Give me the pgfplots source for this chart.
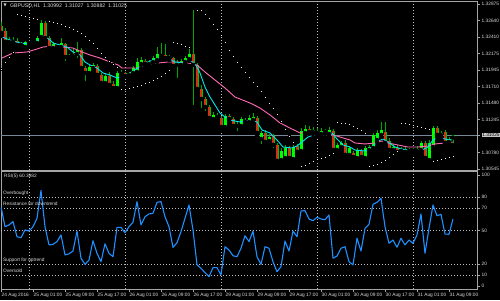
\documentclass[border=0pt]{standalone}
\usepackage{pgfplots}
\pgfplotsset{compat=1.18}
\usepackage{pgfplotstable}
\usepackage{fontspec}
\setmainfont{Liberation Sans}
\newfontfamily\symfont{DejaVu Sans}
\newcommand\mtfont{\fontsize{4.8}{5.5}\selectfont}
\definecolor{fg}{RGB}{220,220,220}
\definecolor{frame}{RGB}{165,165,165}
\definecolor{gridc}{RGB}{190,190,190}
\definecolor{wick}{RGB}{0,170,0}
\definecolor{bull}{RGB}{0,255,0}
\definecolor{bearedge}{RGB}{0,190,0}
\definecolor{bearfill}{RGB}{210,50,20}
\definecolor{fastma}{RGB}{0,230,240}
\definecolor{slowma}{RGB}{255,105,180}
\definecolor{rsiblue}{RGB}{30,144,255}
\definecolor{pline}{RGB}{119,136,153}
\definecolor{lightbox}{RGB}{200,200,200}
\definecolor{sarc}{RGB}{240,240,240}

% hourly candles: t = hours since 25 Aug 2016 00:00
\pgfplotstableread{
t o hi lo c
-7 1.32564 1.32621 1.32423 1.32466
-6 1.32494 1.32536 1.32311 1.32339
-5 1.32339 1.32409 1.32311 1.32367
-4 1.32367 1.32409 1.32297 1.32339
-3 1.32353 1.32395 1.32268 1.32297
-2 1.32297 1.32339 1.32254 1.32311
-1 1.32268 1.32353 1.32254 1.32339
0 1.32339 1.32353 1.32297 1.32325
1 1.32325 1.32353 1.32311 1.32339
2 1.32325 1.32423 1.32311 1.32395
3 1.32409 1.32649 1.32381 1.32607
4 1.32607 1.32635 1.32367 1.32395
5 1.32395 1.32423 1.32226 1.32254
6 1.32254 1.32339 1.32240 1.32311
7 1.32297 1.32311 1.32254 1.32268
8 1.32268 1.32395 1.32254 1.32325
9 1.32311 1.32325 1.32043 1.32127
10 1.32127 1.32170 1.32099 1.32141
11 1.32141 1.32254 1.32113 1.32170
12 1.32170 1.32339 1.32085 1.32226
13 1.32226 1.32254 1.31944 1.31972
14 1.31972 1.32000 1.31761 1.31902
15 1.31902 1.32015 1.31874 1.31986
16 1.31972 1.32043 1.31930 1.32015
17 1.32000 1.32029 1.31845 1.31874
18 1.31874 1.31902 1.31704 1.31761
19 1.31761 1.31888 1.31733 1.31859
20 1.31859 1.31916 1.31704 1.31733
21 1.31747 1.31789 1.31662 1.31690
22 1.31690 1.31930 1.31676 1.31902
23 1.31888 1.31944 1.31859 1.31902
24 1.31902 1.31916 1.31845 1.31859
25 1.31874 1.31916 1.31859 1.31902
26 1.31902 1.32000 1.31888 1.31972
27 1.31916 1.32113 1.31902 1.32057
28 1.32029 1.32127 1.31972 1.32085
29 1.32071 1.32099 1.32000 1.32029
30 1.32029 1.32085 1.32015 1.32057
31 1.32057 1.32141 1.32043 1.32113
32 1.32085 1.32268 1.32057 1.32170
33 1.32170 1.32325 1.32113 1.32141
34 1.32156 1.32311 1.32099 1.32113
35 1.32113 1.32156 1.32085 1.32127
36 1.32113 1.32127 1.31944 1.32000
37 1.32015 1.32085 1.31803 1.32043
38 1.32015 1.32099 1.31986 1.32071
39 1.32057 1.32141 1.32029 1.32113
40 1.32099 1.32268 1.32071 1.32170
41 1.32170 1.32790 1.31422 1.32015
42 1.32015 1.32043 1.31634 1.31676
43 1.31676 1.31733 1.31380 1.31535
44 1.31535 1.31563 1.31338 1.31422
45 1.31422 1.31451 1.31225 1.31267
46 1.31253 1.31352 1.31211 1.31310
47 1.31295 1.31338 1.31253 1.31281
48 1.31267 1.31295 1.31098 1.31140
49 1.31140 1.31324 1.31112 1.31295
50 1.31295 1.31324 1.31225 1.31253
51 1.31253 1.31281 1.31126 1.31154
52 1.31154 1.31211 1.31056 1.31169
53 1.31154 1.31281 1.31126 1.31253
54 1.31239 1.31267 1.31183 1.31211
55 1.31211 1.31310 1.31197 1.31267
56 1.31239 1.31338 1.31211 1.31281
57 1.31267 1.31295 1.31028 1.31056
58 1.30971 1.31084 1.30872 1.31056
59 1.31056 1.31098 1.30901 1.30929
60 1.30943 1.31042 1.30915 1.30999
61 1.31013 1.31042 1.30816 1.30887
62 1.30887 1.30915 1.30619 1.30661
63 1.30675 1.30844 1.30633 1.30802
64 1.30703 1.30887 1.30661 1.30844
65 1.30844 1.30872 1.30675 1.30703
66 1.30689 1.30887 1.30661 1.30858
67 1.30872 1.30901 1.30760 1.30788
68 1.30802 1.31126 1.30774 1.31084
69 1.31056 1.31169 1.31028 1.31112
70 1.31112 1.31154 1.31042 1.31070
71 1.31070 1.31140 1.31042 1.31098
72 1.31084 1.31126 1.31013 1.31056
73 1.31042 1.31126 1.31013 1.31084
74 1.31084 1.31112 1.31042 1.31070
75 1.31042 1.31140 1.31028 1.31098
76 1.31084 1.31112 1.30788 1.30816
77 1.30816 1.30915 1.30774 1.30887
78 1.30858 1.30943 1.30830 1.30915
79 1.30915 1.30957 1.30717 1.30746
80 1.30746 1.30872 1.30717 1.30844
81 1.30774 1.30802 1.30675 1.30717
82 1.30703 1.30844 1.30661 1.30816
83 1.30802 1.30830 1.30675 1.30717
84 1.30703 1.30872 1.30675 1.30844
85 1.30816 1.30887 1.30774 1.30858
86 1.30844 1.31056 1.30816 1.31028
87 1.30957 1.31098 1.30929 1.31056
88 1.31028 1.31211 1.30999 1.31098
89 1.31070 1.31211 1.30887 1.30915
90 1.30943 1.30985 1.30746 1.30816
91 1.30816 1.30901 1.30788 1.30858
92 1.30844 1.30887 1.30760 1.30788
93 1.30816 1.30858 1.30774 1.30802
94 1.30830 1.30858 1.30760 1.30788
95 1.30802 1.30844 1.30774 1.30816
96 1.30816 1.30844 1.30774 1.30802
97 1.30802 1.30872 1.30788 1.30830
98 1.30816 1.30943 1.30788 1.30915
99 1.30915 1.30943 1.30675 1.30703
100 1.30675 1.30957 1.30661 1.30915
101 1.30858 1.31154 1.30830 1.31126
102 1.31126 1.31154 1.30999 1.31028
103 1.31028 1.31084 1.30985 1.31056
104 1.31070 1.31098 1.30887 1.30915
105 1.30929 1.30999 1.30901 1.30971
106 1.30992 1.31027 1.30882 1.31025
}\candles

\pgfplotstableread{
t v
-6.75 1.32409
-4.75 1.32367
-2.25 1.32325
0.25 1.32311
1.5 1.32325
2.25 1.32367
3.75 1.32423
5.25 1.32367
6 1.32325
7.75 1.32297
9.5 1.32268
11 1.32198
12.75 1.32156
14 1.32057
15.25 1.32015
17 1.31972
18.5 1.31902
20.25 1.31874
22 1.31831
23.25 1.31859
24.75 1.31888
26.5 1.31944
28.25 1.32015
29.75 1.32057
31.5 1.32099
33.25 1.32127
34.75 1.32113
36.5 1.32057
38.25 1.32043
39.75 1.32071
41 1.32057
42 1.31986
42.75 1.31902
44 1.31704
45.25 1.31563
46.5 1.31451
47.75 1.31338
49 1.31281
50.25 1.31239
52.75 1.31211
55.25 1.31239
57 1.31211
58.25 1.31098
60.25 1.31056
62 1.30957
63.5 1.30858
65.75 1.30844
67 1.30872
68.25 1.30929
69.75 1.30999
72 1.31042
74.5 1.31056
75.75 1.31056
77 1.30971
78.5 1.30887
80.25 1.30858
81.5 1.30816
84 1.30802
85.75 1.30858
87.25 1.30943
88.5 1.30971
89.75 1.30929
91.5 1.30858
93.25 1.30830
95.75 1.30802
98.25 1.30816
99.75 1.30858
101 1.30957
102.25 1.30999
104 1.30971
105.75 1.30957
}\fastma

\pgfplotstableread{
t v
-6.75 1.32113
-4 1.32184
-0.5 1.32198
2 1.32240
3.5 1.32268
6 1.32282
8.5 1.32268
11 1.32254
13.25 1.32198
15.25 1.32156
17.75 1.32113
20.25 1.32057
22.25 1.32015
23.25 1.31972
24.75 1.31972
27.25 1.31972
29.75 1.32015
32.25 1.32043
34.75 1.32057
37.25 1.32057
39.75 1.32043
42 1.32015
44 1.31916
46.5 1.31803
49 1.31690
51.5 1.31563
52.75 1.31535
55.25 1.31479
57.75 1.31408
60.25 1.31310
62.75 1.31197
65.25 1.31126
67.75 1.31056
70.25 1.31056
72.75 1.31056
75.25 1.31042
77.75 1.30999
80.25 1.30957
81.5 1.30915
84 1.30901
86.5 1.30915
88.25 1.30943
89.75 1.30915
92.25 1.30887
94.75 1.30858
97.25 1.30858
99.75 1.30872
101.5 1.30901
104 1.30915
106 1.30929
}\slowma

\pgfplotstableread{
t v
-7 1.31958
-6 1.32057
-5 1.32127
-4 1.32198
-3 1.32734
-2 1.32720
-1 1.32705
0 1.32691
1 1.32677
2 1.32663
5 1.32635
6 1.32621
7 1.32607
8 1.32593
9 1.32564
10 1.32550
11 1.32522
12 1.32494
13 1.32466
14 1.32423
15 1.32367
16 1.32325
17 1.32254
18 1.32184
19 1.32127
20 1.32071
21 1.32029
22 1.31986
23 1.31676
24 1.31676
25 1.31690
26 1.31704
27 1.31718
28 1.31733
29 1.31761
30 1.31775
31 1.31803
32 1.31831
33 1.31859
34 1.31902
35 1.31944
36 1.32339
37 1.32325
38 1.32311
39 1.32282
40 1.32268
42 1.32790
43 1.32790
44 1.32734
45 1.32677
46 1.32593
47 1.32522
48 1.32438
49 1.32339
50 1.32226
51 1.32141
52 1.32057
53 1.31986
54 1.31916
55 1.31845
56 1.31775
57 1.31718
58 1.31648
59 1.31563
60 1.31479
61 1.31408
62 1.31324
63 1.31225
64 1.31112
65 1.31013
66 1.30929
68 1.30590
69 1.30604
70 1.30633
71 1.30661
72 1.30689
73 1.30703
74 1.30717
75 1.30746
76 1.30774
77 1.31211
78 1.31197
79 1.31197
80 1.31183
81 1.31154
82 1.31126
83 1.31098
84 1.31056
85 1.30590
86 1.30604
87 1.30619
88 1.30647
89 1.30675
90 1.30717
91 1.30760
92 1.30802
93 1.31197
94 1.31197
95 1.31183
96 1.31169
97 1.31154
98 1.31140
99 1.31126
100 1.31112
101 1.30661
102 1.30675
103 1.30689
104 1.30703
105 1.30717
106 1.30731
}\sar

\pgfplotstableread{
t r
-7 71.4
-6 53.4
-5 55
-4 58
-3 44.4
-2 43.5
-1 50.5
0 49.5
1 53.4
2 61
3 86
4 53.4
5 37
6 37.5
7 40
8 46
9 28
10 29
11 31.5
12 49.5
13 25
14 19.5
15 23.4
16 40.8
17 29.4
18 21.9
19 38
20 29.4
21 26.4
22 52.8
23 52.8
24 48
25 53.4
26 57.4
27 76
28 55
29 62.4
30 64.9
31 65.5
32 75.4
33 76
34 62.4
35 53.4
36 34.8
37 39
38 49
39 61
40 73
41 50.5
42 19
43 16
44 12
45 8.4
46 16.5
47 16.5
48 10
49 35.4
50 32.4
51 27.3
52 26.4
53 34
54 45.3
55 40
56 49.5
57 26.4
58 19.5
59 35.4
60 34
61 21.9
62 12.9
63 17.4
64 40.5
65 31.5
66 49.5
67 44.4
68 67.6
69 67.9
70 60.4
71 58.8
72 61.9
73 60.4
74 59.7
75 64
76 25
77 27
78 34
79 35.4
80 21.9
81 19
82 43
83 31.5
84 52
85 55.6
86 73.6
87 75.4
88 79
89 53.4
90 38.5
91 41.4
92 34.9
93 43
94 37
95 41.4
96 38.5
97 46
98 64.9
99 29.4
100 52
101 73
102 63.3
103 64.6
104 46.8
105 46.6
106 60.4
}\rsi

\begin{document}
\begin{tikzpicture}
\fill[black] (0,0) rectangle (500pt,300pt);
\useasboundingbox (0,0) rectangle (500pt,300pt);

% ---------------- price panel ----------------
\begin{axis}[
  at={(1pt,130pt)}, anchor=south west,
  scale only axis, width=476pt, height=169pt,
  xmin=-7, xmax=112, ymin=1.30534, ymax=1.32917,
  axis line style={draw=frame, line width=0.8pt},
  xtick=\empty,
  ytick={1.30545,1.30780,1.31245,1.31480,1.31710,1.31945,1.32175,1.32410,1.32640,1.32875},
  yticklabels={1.30545,1.30780,1.31245,1.31480,1.31710,1.31945,1.32175,1.32410,1.32640,1.32875},
  ytick pos=right, yticklabel pos=right,
  tick align=outside, major tick length=3pt,
  tick style={draw=frame, line width=0.5pt},
  yticklabel style={font=\mtfont, text=fg, anchor=west, inner sep=0pt, xshift=1.5pt},
  extra x ticks={0,24,48,72,96},
  extra x tick labels={},
  extra x tick style={grid=major, major tick length=0pt,
     major grid style={gridc, dash pattern=on 1pt off 2pt, line width=0.6pt}},
  extra y ticks={1.31025},
  extra y tick labels={1.31025},
  extra y tick style={grid=major,
     major grid style={pline, solid, line width=0.8pt},
     yticklabel style={fill=lightbox, text=black, inner sep=0.6pt}},
  unbounded coords=discard,
]
% wicks
\addplot[only marks, mark=none, forget plot,
  error bars/.cd, y dir=plus, y explicit, error mark=none,
  error bar style={draw=wick, solid, line width=0.8pt}]
  table[x=t, y=lo, y error expr=\thisrow{hi}-\thisrow{lo}] \candles;
% bullish bodies
\addplot[only marks, mark=none, forget plot,
  y filter/.expression={\thisrow{c}>\thisrow{o} ? y : nan},
  error bars/.cd, y dir=plus, y explicit, error mark=none,
  error bar style={draw=bull, solid, line width=3pt}]
  table[x=t, y=o, y error expr={max(\thisrow{c}-\thisrow{o},0.00012)}] \candles;
% bearish bodies (edge + fill)
\addplot[only marks, mark=none, forget plot,
  y filter/.expression={\thisrow{c}<\thisrow{o} ? y : nan},
  error bars/.cd, y dir=plus, y explicit, error mark=none,
  error bar style={draw=bearedge, solid, line width=3pt}]
  table[x=t, y=c, y error expr={max(\thisrow{o}-\thisrow{c},0.00012)}] \candles;
\addplot[only marks, mark=none, forget plot,
  y filter/.expression={\thisrow{c}<\thisrow{o} ? y : nan},
  error bars/.cd, y dir=plus, y explicit, error mark=none,
  error bar style={draw=bearfill, solid, line width=1.6pt}]
  table[x=t, y=c, y error expr={max(\thisrow{o}-\thisrow{c},0.00012)}] \candles;
% moving averages
\addplot[slowma, line width=0.9pt, mark=none] table[x=t, y=v] \slowma;
\addplot[fastma, line width=0.9pt, mark=none] table[x=t, y=v] \fastma;
% parabolic SAR
\addplot[only marks, mark=square*, mark size=0.75pt, mark options={draw=none, fill=sarc}] table[x=t, y=v] \sar;
\node[anchor=north west, inner sep=0pt, font=\fontsize{5.2}{6}\selectfont, text=fg] at ([xshift=9pt, yshift=-2.3pt]rel axis cs:0,1) {GBPUSD,H1\ \ 1.30992\ \ 1.31027\ \ 1.30882\ \ 1.31025};
\node[anchor=north west, inner sep=0pt, font=\symfont\fontsize{4}{4}\selectfont, text=fg] at ([xshift=2.5pt, yshift=-2.8pt]rel axis cs:0,1) {▼};
\end{axis}

% ---------------- RSI panel ----------------
\begin{axis}[
  at={(1pt,11pt)}, anchor=south west,
  scale only axis, width=476pt, height=118pt,
  xmin=-7, xmax=112, ymin=-2.7, ymax=103.6,
  axis line style={draw=frame, line width=0.8pt},
  xtick={-7,1,9,17,25,33,41,49,57,65,73,81,89,97,105},
  xticklabels={24 Aug 2016,25 Aug 01:00,25 Aug 09:00,25 Aug 17:00,26 Aug 01:00,26 Aug 09:00,26 Aug 17:00,29 Aug 01:00,29 Aug 09:00,29 Aug 17:00,30 Aug 01:00,30 Aug 09:00,30 Aug 17:00,31 Aug 01:00,31 Aug 09:00},
  xtick pos=bottom,
  xticklabel style={font=\mtfont, text=fg, anchor=north west, inner sep=0pt, xshift=0.5pt, yshift=-0.5pt},
  ytick={0,10,20,50,70,80,100},
  yticklabels={0,10,20,50,70,80,100},
  ytick pos=right, yticklabel pos=right,
  tick align=outside, major tick length=3pt,
  tick style={draw=frame, line width=0.5pt},
  yticklabel style={font=\mtfont, text=fg, anchor=west, inner sep=0pt, xshift=1.5pt},
  extra x ticks={0,24,48,72,96},
  extra x tick labels={},
  extra x tick style={grid=major, major tick length=0pt,
     major grid style={gridc, dash pattern=on 1pt off 2pt, line width=0.6pt}},
  extra y ticks={10,20,50,70,80},
  extra y tick labels={},
  extra y tick style={grid=major, major tick length=0pt,
     major grid style={gridc, dash pattern=on 1pt off 2pt, line width=0.6pt}},
]
\addplot[rsiblue, line width=1.1pt, line join=round, mark=none] table[x=t, y=r] \rsi;
\node[anchor=north west, inner sep=0pt, font=\mtfont, text=fg] at ([xshift=3pt, yshift=-2.5pt]rel axis cs:0,1) {RSI(5) 60.3982};
\node[anchor=base west, inner sep=0pt, font=\mtfont, text=fg] at (axis cs:-6.5,82.2) {Overbought};
\node[anchor=base west, inner sep=0pt, font=\mtfont, text=fg] at (axis cs:-6.5,72.2) {Resistance for downtrend};
\node[anchor=base west, inner sep=0pt, font=\mtfont, text=fg] at (axis cs:-6.5,22.2) {Support for uptrend};
\node[anchor=base west, inner sep=0pt, font=\mtfont, text=fg] at (axis cs:-6.5,12.2) {Oversold};
\end{axis}
\end{tikzpicture}
\end{document}
